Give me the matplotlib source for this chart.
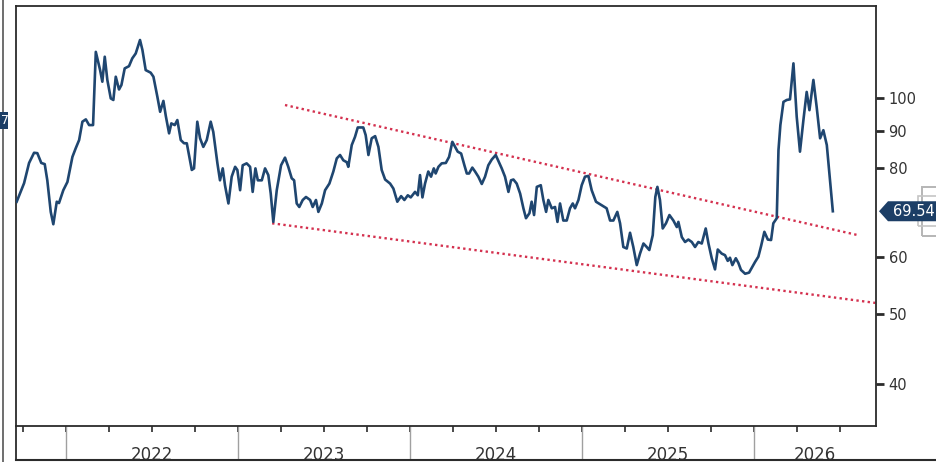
import matplotlib
matplotlib.use("Agg")
import matplotlib.pyplot as plt
import matplotlib.transforms as mtransforms
from matplotlib.patches import Rectangle, Polygon
from matplotlib.lines import Line2D
from matplotlib.ticker import NullLocator
import numpy as np

# ---------------- data (time in decimal years, value) ----------------
t = [
    2021.713, 2021.756, 2021.785, 2021.814, 2021.833, 2021.856, 2021.876, 2021.891, 2021.911, 2021.926,
    2021.946, 2021.959, 2021.984, 2022.008, 2022.037, 2022.056, 2022.076, 2022.095, 2022.115, 2022.134,
    2022.157, 2022.173, 2022.198, 2022.211, 2022.225, 2022.240, 2022.260, 2022.275, 2022.289, 2022.308,
    2022.322, 2022.341, 2022.366, 2022.385, 2022.405, 2022.430, 2022.444, 2022.463, 2022.492, 2022.508,
    2022.531, 2022.547, 2022.566, 2022.580, 2022.599, 2022.612, 2022.632, 2022.647, 2022.667, 2022.686,
    2022.702, 2022.731, 2022.744, 2022.763, 2022.779, 2022.798, 2022.818, 2022.841, 2022.856, 2022.880,
    2022.895, 2022.911, 2022.924, 2022.944, 2022.963, 2022.983, 2022.996, 2023.012, 2023.027, 2023.050,
    2023.070, 2023.085, 2023.101, 2023.115, 2023.138, 2023.157, 2023.176, 2023.190, 2023.205, 2023.225,
    2023.250, 2023.273, 2023.292, 2023.312, 2023.326, 2023.341, 2023.356, 2023.376, 2023.395, 2023.419,
    2023.434, 2023.453, 2023.467, 2023.487, 2023.506, 2023.531, 2023.554, 2023.574, 2023.593, 2023.612,
    2023.632,
    2023.641, 2023.661, 2023.680, 2023.696, 2023.728, 2023.742, 2023.758, 2023.777, 2023.797, 2023.816,
    2023.835, 2023.855, 2023.884, 2023.903, 2023.926, 2023.948, 2023.967, 2023.987, 2024.004, 2024.029,
    2024.045, 2024.058, 2024.072, 2024.087, 2024.106, 2024.122, 2024.138, 2024.149, 2024.165, 2024.184,
    2024.208, 2024.227, 2024.246, 2024.262, 2024.277, 2024.297, 2024.316, 2024.330, 2024.343, 2024.362,
    2024.378, 2024.397, 2024.417, 2024.436, 2024.455, 2024.475, 2024.498, 2024.517, 2024.533, 2024.552,
    2024.572, 2024.587,
    2024.601, 2024.620, 2024.640, 2024.659, 2024.674, 2024.694, 2024.707, 2024.721, 2024.737, 2024.760,
    2024.775, 2024.791, 2024.804, 2024.824, 2024.843, 2024.857, 2024.872, 2024.891, 2024.911, 2024.930,
    2024.946, 2024.959, 2024.979, 2024.998, 2025.017, 2025.037, 2025.056, 2025.081, 2025.114, 2025.143,
    2025.163, 2025.182, 2025.205, 2025.221, 2025.240, 2025.260, 2025.279, 2025.298, 2025.318, 2025.337,
    2025.357, 2025.376, 2025.391, 2025.411, 2025.426, 2025.438, 2025.453, 2025.469, 2025.488, 2025.508,
    2025.531, 2025.551,
    2025.560, 2025.580, 2025.599, 2025.618, 2025.638, 2025.657, 2025.676, 2025.696, 2025.719, 2025.735,
    2025.754, 2025.773, 2025.789, 2025.812, 2025.831, 2025.847, 2025.860, 2025.874, 2025.894, 2025.909,
    2025.924, 2025.948, 2025.971, 2025.990, 2026.006, 2026.025, 2026.041, 2026.060, 2026.080, 2026.099,
    2026.112, 2026.132, 2026.142, 2026.153, 2026.171, 2026.190, 2026.209, 2026.229, 2026.248, 2026.267,
    2026.287, 2026.306, 2026.322, 2026.345, 2026.364, 2026.384, 2026.403, 2026.423, 2026.458,
]
values = [
    71.7, 76.1, 81.2, 83.9, 83.8, 81.2, 80.9, 76.8, 69.4, 66.7,
    71.7, 71.4, 74.4, 76.4, 82.8, 85.1, 87.4, 92.7, 93.4, 91.7,
    91.7, 116.0, 109.4, 105.4, 114.2, 106.0, 99.9, 99.4, 107.1, 102.8,
    104.3, 110.0, 110.8, 113.6, 115.4, 120.5, 116.7, 109.4, 108.5, 107.1,
    100.4, 95.7, 99.1, 94.4, 89.3, 92.2, 91.7, 93.2, 87.4, 86.5,
    86.5, 79.4, 79.8, 92.7, 87.9, 85.5, 87.4, 92.7, 89.7, 81.1,
    76.8, 79.8, 75.6, 71.3, 77.7, 80.2, 79.4, 74.4, 80.6, 81.1,
    80.2, 74.0, 79.8, 76.8, 76.8, 79.8, 78.1, 73.6, 67.2, 74.4,
    80.6, 82.6, 80.2, 77.3, 76.8, 71.3, 70.5, 72.1, 72.8, 72.1,
    70.5, 72.1, 69.4, 71.3, 74.4, 76.0, 79.0, 82.4, 83.3, 81.9,
    81.4,
    80.2, 86.0, 88.3, 91.0, 91.0, 88.8, 83.3, 87.9, 88.5, 85.5,
    79.4, 77.0, 76.0, 74.8, 71.7, 73.0, 72.1, 73.2, 72.7, 74.0,
    73.2, 78.1, 72.7, 76.0, 79.0, 77.7, 79.8, 78.5, 80.2, 81.1,
    81.2, 82.8, 86.9, 85.5, 84.2, 83.7, 80.6, 78.5, 78.5, 80.0,
    79.0, 77.7, 75.9, 77.7, 80.6, 82.1, 83.3, 81.4, 79.8, 77.7,
    74.0, 76.8,
    77.0, 76.0, 73.6, 70.2, 68.0, 69.1, 71.7, 68.7, 75.2, 75.6,
    72.1, 69.4, 72.1, 70.2, 70.5, 67.2, 71.3, 67.5, 67.5, 70.2,
    71.3, 70.2, 72.1, 75.6, 77.7, 77.9, 74.4, 71.7, 70.9, 70.2,
    67.5, 67.5, 69.4, 66.9, 62.0, 61.7, 64.9, 62.0, 58.5, 60.7,
    62.7, 62.0, 61.4, 64.4, 72.8, 75.2, 72.1, 65.8, 66.9, 68.7,
    67.5, 66.1,
    67.2, 64.0, 63.0, 63.5, 63.0, 62.0, 63.0, 62.7, 65.8, 62.7,
    59.8, 57.7, 61.5, 60.7, 60.4, 59.3, 59.9, 58.5, 59.8, 58.9,
    57.6, 56.9, 57.1, 58.2, 59.1, 60.1, 62.2, 65.1, 63.5, 63.4,
    66.9, 68.0, 84.6, 91.7, 98.8, 99.4, 99.6, 111.8, 94.2, 84.2,
    93.2, 102.0, 96.2, 106.0, 97.2, 87.9, 90.2, 86.0, 69.54,
]
last_value = 69.54

upper_t = [2023.273, 2026.605]
upper_v = [97.8, 64.4]
lower_t = [2023.198, 2026.709]
lower_v = [66.9, 51.8]

years = [2022, 2023, 2024, 2025, 2026]
ytick_values = [40, 50, 60, 80, 90, 100]

# ---------------- styling ----------------
W, H = 936, 462
NAVY = "#1f4670"
RED = "#d4314f"
DARK = "#2b2b2b"
TXT = "#333333"

fig = plt.figure(figsize=(W / 100, H / 100), dpi=100)
fig.patch.set_facecolor("white")
ax = fig.add_axes([16 / W, 1 - 426 / H, 860 / W, 420 / H])

ax.plot(t, values, color=NAVY, lw=1.9, solid_joinstyle="round", zorder=3)
ax.plot(upper_t, upper_v, color=RED, lw=1.7, ls=(0, (1, 1.4)), zorder=2)
ax.plot(lower_t, lower_v, color=RED, lw=1.7, ls=(0, (1, 1.4)), zorder=2)

ax.set_yscale("log")
ax.set_ylim(34.9, 134.4)
ax.set_xlim(2021.709, 2026.709)

ax.yaxis.tick_right()
ax.set_yticks(ytick_values)
ax.set_yticklabels([str(v) for v in ytick_values])
ax.yaxis.set_minor_locator(NullLocator())
ax.tick_params(axis="y", which="major", direction="out", length=6, width=2,
               colors=DARK, labelcolor=TXT, labelsize=10.5, pad=3)

xmin, xmax = ax.get_xlim()
quarters = np.arange(2021.75, 2026.7, 0.25)
ax.set_xticks(quarters)
ax.set_xticklabels([])
ax.xaxis.set_minor_locator(NullLocator())
ax.tick_params(axis="x", direction="out", length=4, width=1.2, colors=DARK)

for sp in ax.spines.values():
    sp.set_color(DARK)
    sp.set_linewidth(1.3)

trans = mtransforms.blended_transform_factory(ax.transData, ax.transAxes)
band = -34 / 420
for y in years:
    ax.plot([y, y], [0, band], transform=trans, color="#a0a0a0", lw=1.0, clip_on=False)
    center = (max(y, xmin) + min(y + 1, xmax)) / 2
    ax.text(center, -20 / 420, str(y), transform=trans, ha="center", va="top",
            fontsize=12, color=TXT, clip_on=False)

# left frame continues down through the year band
ax.plot([0, 0], [0, band], transform=ax.transAxes, color=DARK, lw=1.3, clip_on=False)

# last-value tag
anchor = mtransforms.ScaledTranslation(1, last_value, ax.get_yaxis_transform())
tag = Polygon([(3, 0), (12, 10), (80, 10), (80, -10), (12, -10)], closed=True,
              transform=mtransforms.IdentityTransform() + anchor,
              facecolor="#1c3e66", edgecolor="none", clip_on=False, zorder=6)
ax.add_patch(tag)
ax.annotate(f"{last_value:.2f}", xy=(1, last_value), xycoords=("axes fraction", "data"),
            xytext=(17, 0), textcoords="offset pixels", ha="left", va="center",
            fontsize=10.5, color="white", annotation_clip=False, zorder=7)

# ---------------- frame remnants of the screenshot ----------------
fig.add_artist(Line2D([16 / W, 1], [1 - 460 / H] * 2, transform=fig.transFigure,
                      color=DARK, lw=1.5, zorder=10))
fig.add_artist(Rectangle((16 / W, 0), 1, 1.3 / H, transform=fig.transFigure,
                         facecolor="white", edgecolor="none", zorder=9))
fig.add_artist(Line2D([3 / W, 3 / W], [0, 1], transform=fig.transFigure,
                      color="#555555", lw=1.2, zorder=10))
fig.add_artist(Rectangle((0, 1 - 129 / H), 8 / W, 17 / H, transform=fig.transFigure,
                         facecolor="#1c3e66", edgecolor="none", zorder=10))
fig.text(0.5 / W, 1 - 120.5 / H, "7", color="white", fontsize=9, va="center", ha="left", zorder=11)
fig.add_artist(Rectangle((922 / W, 1 - 236 / H), 30 / W, 49 / H, transform=fig.transFigure,
                         facecolor="none", edgecolor="#b5b5b5", lw=1.4, zorder=-2))
fig.add_artist(Rectangle((918 / W, 1 - 226 / H), 30 / W, 30 / H, transform=fig.transFigure,
                         facecolor="none", edgecolor="#c5c5c5", lw=1.2, zorder=-2))

fig.savefig("out.png", dpi=100, facecolor="white")
